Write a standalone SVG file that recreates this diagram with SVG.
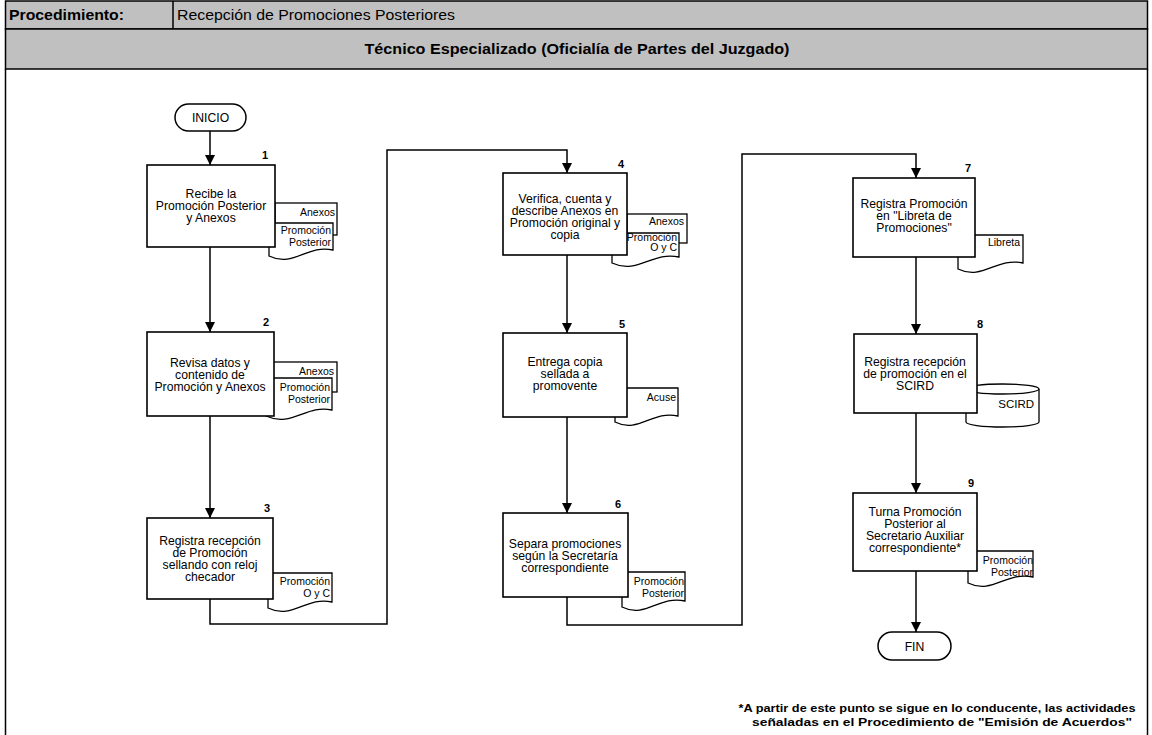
<svg xmlns="http://www.w3.org/2000/svg" width="1152" height="735" viewBox="0 0 1152 735">
  <style>
    .hdr { fill: #c0c0c0; stroke: #000; stroke-width: 1.5; }
    .frame { fill: none; stroke: #000; stroke-width: 1.5; }
    .box { fill: #fff; stroke: #000; stroke-width: 1.6; }
    .doc { fill: #fff; stroke: #000; stroke-width: 1.3; }
    .term { fill: #fff; stroke: #000; stroke-width: 1.5; }
    .conn { fill: none; stroke: #000; stroke-width: 1.5; }
    text { font-family: "Liberation Sans", Arial, sans-serif; fill: #000; }
    .t { font-size: 12.2px; text-anchor: middle; }
    .d { font-size: 10.5px; text-anchor: end; }
    .n { font-size: 11px; font-weight: bold; text-anchor: middle; }
    .hb { font-size: 14px; font-weight: bold; }
    .hr { font-size: 14px; }
    .fn { font-size: 10.5px; font-weight: bold; text-anchor: middle; }
  </style>
  <defs>
    <marker id="arrow" markerUnits="userSpaceOnUse" markerWidth="10" markerHeight="10" viewBox="0 0 10 10" refX="10" refY="5" orient="auto">
      <path d="M0,0 L10,5 L0,10 Z" fill="#000"/>
    </marker>
  </defs>

  <!-- header rows and page frame -->
  <g id="header">
    <rect class="hdr" x="5.5" y="1" width="1142" height="28"/>
    <line class="frame" x1="173" y1="1" x2="173" y2="29"/>
    <rect class="hdr" x="5.5" y="29" width="1142" height="40"/>
    <text class="hb" x="9" y="19.5" textLength="115" lengthAdjust="spacingAndGlyphs">Procedimiento:</text>
    <text class="hr" x="177" y="19.5" textLength="278" lengthAdjust="spacingAndGlyphs">Recepción de Promociones Posteriores</text>
    <text class="hb" x="577" y="54" text-anchor="middle" textLength="425" lengthAdjust="spacingAndGlyphs">Técnico Especializado (Oficialía de Partes del Juzgado)</text>
    <path class="frame" d="M5.5,69 V736 M1147.5,69 V736"/>
  </g>

  <!-- flow connectors -->
  <g id="connectors">
    <path class="conn" d="M210,131 V165" marker-end="url(#arrow)"/>
    <path class="conn" d="M210,247 V332" marker-end="url(#arrow)"/>
    <path class="conn" d="M210,416 V518" marker-end="url(#arrow)"/>
    <path class="conn" d="M210,599 V624 H387 V150 H567 V173" marker-end="url(#arrow)"/>
    <path class="conn" d="M567,255 V333" marker-end="url(#arrow)"/>
    <path class="conn" d="M567,417 V513" marker-end="url(#arrow)"/>
    <path class="conn" d="M567,597 V625 H742 V154 H916 V178" marker-end="url(#arrow)"/>
    <path class="conn" d="M916,257 V334" marker-end="url(#arrow)"/>
    <path class="conn" d="M916,413 V493" marker-end="url(#arrow)"/>
    <path class="conn" d="M916,571 V632" marker-end="url(#arrow)"/>
  </g>

  <g id="inicio">
    <rect class="term" x="175" y="104" width="71" height="27" rx="13.5"/>
    <text class="t" x="210.5" y="122" font-size="12.5">INICIO</text>
  </g>

  <g id="step1">
    <rect class="doc" x="275" y="203" width="62" height="32"/>
    <path class="doc" d="M269,223 H333 V250 C307,244 294,268 269,256 Z"/>
    <rect class="box" x="147" y="165" width="128" height="82"/>
    <text class="n" x="265" y="159">1</text>
    <text class="t" x="211" y="197.5">Recibe la</text>
    <text class="t" x="211" y="209.5">Promoción Posterior</text>
    <text class="t" x="211" y="221.5">y Anexos</text>
    <text class="d" x="335" y="216">Anexos</text>
    <text class="d" x="331" y="234">Promoción</text>
    <text class="d" x="331" y="246">Posterior</text>
  </g>

  <g id="step2">
    <rect class="doc" x="273" y="362" width="64" height="30"/>
    <path class="doc" d="M266,378 H332 V410 C306,404 292,428 266,416 Z"/>
    <rect class="box" x="147" y="332" width="127" height="84"/>
    <text class="n" x="266" y="326">2</text>
    <text class="t" x="210" y="366.5">Revisa datos y</text>
    <text class="t" x="210" y="378.5">contenido de</text>
    <text class="t" x="210" y="390.5">Promoción y Anexos</text>
    <text class="d" x="334" y="375">Anexos</text>
    <text class="d" x="330" y="391">Promoción</text>
    <text class="d" x="330" y="403">Posterior</text>
  </g>

  <g id="step3">
    <path class="doc" d="M268,573 H332 V602 C306,596 293,620 268,608 Z"/>
    <rect class="box" x="147" y="518" width="126" height="81"/>
    <text class="n" x="267" y="512">3</text>
    <text class="t" x="210" y="544.5">Registra recepción</text>
    <text class="t" x="210" y="556.5">de Promoción</text>
    <text class="t" x="210" y="568.5">sellando con reloj</text>
    <text class="t" x="210" y="580.5">checador</text>
    <text class="d" x="330" y="585">Promoción</text>
    <text class="d" x="330" y="597">O y C</text>
  </g>

  <g id="step4">
    <rect class="doc" x="627" y="214" width="60" height="29"/>
    <path class="doc" d="M612,233 H679 V257 C652,251 638,275 612,263 Z"/>
    <rect class="box" x="503" y="173" width="124" height="82"/>
    <text class="n" x="621" y="168">4</text>
    <text class="t" x="565" y="202.5">Verifica, cuenta y</text>
    <text class="t" x="565" y="214.5">describe Anexos en</text>
    <text class="t" x="565" y="226.5">Promoción original y</text>
    <text class="t" x="565" y="238.5">copia</text>
    <text class="d" x="684" y="225">Anexos</text>
    <text class="d" x="677" y="241">Promoción</text>
    <text class="d" x="677" y="251">O y C</text>
  </g>

  <g id="step5">
    <path class="doc" d="M615,388 H678 V416 C652,410 639,434 615,422 Z"/>
    <rect class="box" x="503" y="333" width="124" height="84"/>
    <text class="n" x="622" y="328">5</text>
    <text class="t" x="565" y="365.5">Entrega copia</text>
    <text class="t" x="565" y="377.5">sellada a</text>
    <text class="t" x="565" y="389.5">promovente</text>
    <text class="d" x="676" y="401" font-size="9.5">Acuse</text>
  </g>

  <g id="step6">
    <path class="doc" d="M622,572 H685 V601 C659,595 646,619 622,607 Z"/>
    <rect class="box" x="503" y="513" width="125" height="84"/>
    <text class="n" x="618" y="508">6</text>
    <text class="t" x="565" y="547.5">Separa promociones</text>
    <text class="t" x="565" y="559.5">según la Secretaría</text>
    <text class="t" x="565" y="571.5">correspondiente</text>
    <text class="d" x="684" y="585">Promoción</text>
    <text class="d" x="684" y="597">Posterior</text>
  </g>

  <g id="step7">
    <path class="doc" d="M958,235 H1023 V263 C996,257 983,281 958,269 Z"/>
    <rect class="box" x="853" y="178" width="122" height="79"/>
    <text class="n" x="968" y="172">7</text>
    <text class="t" x="914" y="207.5">Registra Promoción</text>
    <text class="t" x="914" y="219.5">en "Libreta de</text>
    <text class="t" x="914" y="231.5">Promociones"</text>
    <text class="d" x="1020" y="246" font-size="9.5">Libreta</text>
  </g>

  <g id="step8">
    <path class="doc" d="M966,389 A36.5,5 0 0 1 1039,389 V422 A36.5,5 0 0 1 966,422 Z"/>
    <path class="doc" d="M966,389 A36.5,5 0 0 0 1039,389"/>
    <rect class="box" x="854" y="334" width="123" height="79"/>
    <text class="n" x="980" y="328">8</text>
    <text class="t" x="915" y="365.5">Registra recepción</text>
    <text class="t" x="915" y="377.5">de promoción en el</text>
    <text class="t" x="915" y="389.5">SCIRD</text>
    <text x="1034" y="408" font-size="11.5" text-anchor="end">SCIRD</text>
  </g>

  <g id="step9">
    <path class="doc" d="M968,551 H1033 V577 C1006,571 993,595 968,583 Z"/>
    <rect class="box" x="853" y="493" width="124" height="78"/>
    <text class="n" x="971" y="487">9</text>
    <text class="t" x="915" y="515.5">Turna Promoción</text>
    <text class="t" x="915" y="527.5">Posterior al</text>
    <text class="t" x="915" y="539.5">Secretario Auxiliar</text>
    <text class="t" x="915" y="551.5">correspondiente*</text>
    <text class="d" x="1033" y="564">Promoción</text>
    <text class="d" x="1033" y="576">Posterior</text>
  </g>

  <g id="fin">
    <rect class="term" x="878" y="632" width="73" height="28" rx="14"/>
    <text class="t" x="914.5" y="650.5" font-size="12.5">FIN</text>
  </g>

  <g id="note">
    <text class="fn" x="937" y="712" textLength="397" lengthAdjust="spacingAndGlyphs">*A partir de este punto se sigue en lo conducente, las actividades</text>
    <text class="fn" x="942" y="726" textLength="380" lengthAdjust="spacingAndGlyphs">señaladas en el Procedimiento de "Emisión de Acuerdos"</text>
  </g>
</svg>
